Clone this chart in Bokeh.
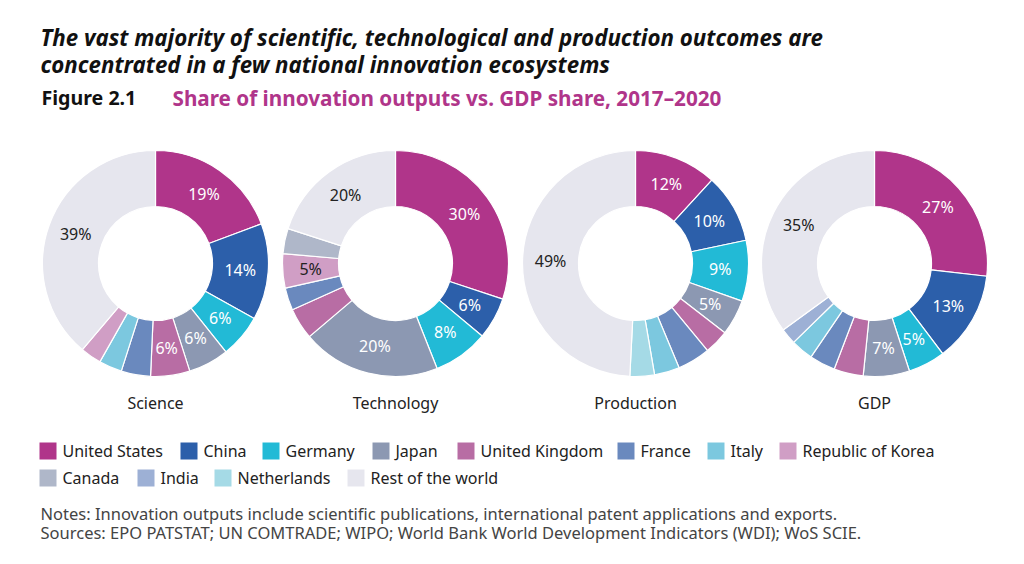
import math
from bokeh.plotting import figure
from bokeh.models import Range1d, ColumnDataSource
from bokeh.core.properties import value
from bokeh.embed import file_html
from bokeh.resources import INLINE

# ---------------- data ----------------
countries = ["United States", "China", "Germany", "Japan", "United Kingdom", "France",
             "Italy", "Republic of Korea", "Canada", "India", "Netherlands", "Rest of the world"]
chart_names = ["Science", "Technology", "Production", "GDP"]
science = [19.3, 13.8, 6.2, 5.8, 5.6, 4.2, 3.3, 3.0, 0, 0, 0, 38.8]
technology = [30.1, 6.0, 7.9, 19.8, 4.5, 3.2, 0, 4.9, 3.6, 0, 0, 20.0]
production = [11.8, 9.9, 8.7, 5.1, 3.5, 4.7, 3.6, 0, 0, 0, 3.5, 49.2]
gdp = [26.8, 12.9, 5.3, 6.6, 4.2, 3.7, 3.2, 0, 0, 2.3, 0, 35.0]

# ---------------- styles ----------------
colors = ["#B0358A", "#2C5FAA", "#22BAD6", "#8C98B2", "#B86DA4", "#6A89BE",
          "#7CC8DF", "#D09EC5", "#AFB7C9", "#9DB0D5", "#A5DAE6", "#E6E6EE"]
dark_label = {"Republic of Korea", "Rest of the world", "Canada", "India", "Netherlands", "Italy"}
FONT = value("Noto Sans")

W, H = 1008, 548
p = figure(width=W, height=H, output_backend="svg", toolbar_location=None,
           x_range=Range1d(0, W), y_range=Range1d(-H, 0),
           min_border=0, outline_line_color=None, background_fill_color="white",
           border_fill_color="white")
p.axis.visible = False
p.grid.visible = False

def txt(x, y, s, size="16px", color="#222222", style="normal", align="left"):
    p.text(x=[x], y=[-y], text=[s], text_font=FONT, text_font_size=size,
           text_color=color, text_font_style=style, text_align=align, text_baseline="middle")

# titles
txt(40, 37, "The vast majority of scientific, technological and production outcomes are",
    size="22.3px", color="#111111", style="bold italic")
txt(40, 64, "concentrated in a few national innovation ecosystems",
    size="22.3px", color="#111111", style="bold italic")
txt(41, 97, "Figure 2.1", size="19.6px", color="#111111", style="bold")
txt(172, 97, "Share of innovation outputs vs. GDP share, 2017\u20132020",
    size="20.7px", color="#B0358A", style="bold")

# donuts
centers_x = [155, 395, 635, 874]
cy = 263
r_in, r_out, r_lab = 57, 113, 85
series = [science, technology, production, gdp]
for name, vals, cx in zip(chart_names, series, centers_x):
    total = sum(vals)
    starts, ends, cols, lx, ly, labs, lcols = [], [], [], [], [], [], []
    cum = 0.0
    for c, v, col in zip(countries, vals, colors):
        if v <= 0:
            continue
        f0 = cum / total
        cum += v
        f1 = cum / total
        a0 = math.pi / 2 - 2 * math.pi * f0
        a1 = math.pi / 2 - 2 * math.pi * f1
        starts.append(a0)
        ends.append(a1)
        cols.append(col)
        if v >= 4.85:
            am = (a0 + a1) / 2
            lx.append(cx + r_lab * math.cos(am))
            ly.append(-cy + r_lab * math.sin(am))
            labs.append(f"{round(v)}%")
            lcols.append("#222222" if c in dark_label else "white")
    src = ColumnDataSource(dict(s=starts, e=ends, c=cols))
    p.annular_wedge(x=cx, y=-cy, inner_radius=r_in, outer_radius=r_out,
                    start_angle="s", end_angle="e", direction="clock",
                    fill_color="c", line_color="white", line_width=1.2, source=src)
    lsrc = ColumnDataSource(dict(x=lx, y=ly, t=labs, c=lcols))
    p.text(x="x", y="y", text="t", text_color="c", source=lsrc, text_font=FONT,
           text_font_size="16px", text_align="center", text_baseline="middle")
    txt(cx, 402, name, align="center")

# legend
leg_x = [39, 180, 262, 372, 457, 617, 707, 779, 39, 137, 214, 347]
leg_y = [450.5] * 8 + [477.5] * 4
sq = 17
for i, c in enumerate(countries):
    x0, y0 = leg_x[i], leg_y[i]
    p.rect(x=[x0 + sq / 2], y=[-y0], width=sq, height=sq, fill_color=colors[i], line_color=None)
    txt(x0 + sq + 6, y0, c, color="#222222")

# notes
txt(40, 513, "Notes: Innovation outputs include scientific publications, international patent applications and exports.",
    size="16.5px", color="#444444")
txt(40, 532, "Sources: EPO PATSTAT; UN COMTRADE; WIPO; World Bank World Development Indicators (WDI); WoS SCIE.",
    size="16.5px", color="#444444")

open("out.html", "w").write(file_html(p, INLINE))
